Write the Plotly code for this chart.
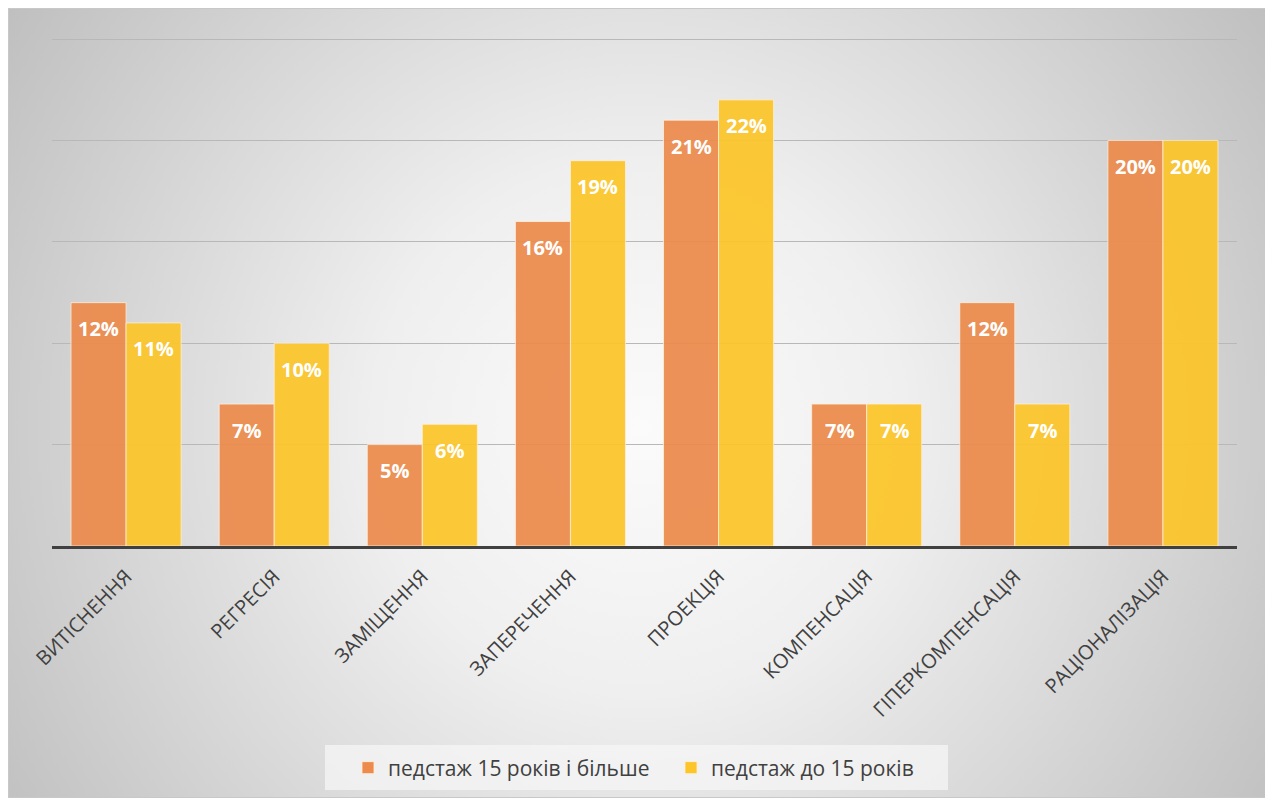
import base64
import plotly.graph_objects as go

categories = ["ВИТІСНЕННЯ", "РЕГРЕСІЯ", "ЗАМІЩЕННЯ", "ЗАПЕРЕЧЕННЯ", "ПРОЕКЦІЯ",
              "КОМПЕНСАЦІЯ", "ГІПЕРКОМПЕНСАЦІЯ", "РАЦІОНАЛІЗАЦІЯ"]
series_names = ["педстаж 15 років і більше", "педстаж до 15 років"]
senior = [12, 7, 5, 16, 21, 7, 12, 20]
junior = [11, 10, 6, 19, 22, 7, 7, 20]
colors = ["#EC8B4C", "#FCC529"]

W, H = 1262, 790
L, R, T, B = 44, 33, 30, 252
pw, ph = W - L - R, H - T - B

svg = f'''<svg xmlns="http://www.w3.org/2000/svg" width="{W}" height="{H}" viewBox="0 0 {W} {H}">
<defs><radialGradient id="g" gradientUnits="userSpaceOnUse" cx="{W/2}" cy="420" r="760">
<stop offset="0" stop-color="#fbfbfb"/><stop offset="0.35" stop-color="#efefef"/><stop offset="1" stop-color="#bfbfbf"/></radialGradient></defs>
<rect x="0.5" y="0.5" width="{W-1}" height="{H-1}" fill="url(#g)" stroke="#c8c8c8" stroke-width="1"/>
</svg>'''
src = "data:image/svg+xml;base64," + base64.b64encode(svg.encode()).decode()


def px(x):
    return (x - L) / pw


def py(y):
    return (H - B - y) / ph


fig = go.Figure()
for name, vals, col in zip(series_names, [senior, junior], colors):
    fig.add_trace(go.Bar(
        x=categories, y=vals, name=name,
        marker=dict(color=col, opacity=0.93, line=dict(color="rgba(255,240,220,0.8)", width=1)),
        hoverinfo="x+y",
    ))

annotations = []
for vals, sh in [(senior, -27.5), (junior, 27.5)]:
    for c, v in zip(categories, vals):
        annotations.append(dict(
            x=c, y=v, xref="x", yref="y", text=f"{v}%", showarrow=False,
            xshift=sh, yshift=-26, yanchor="middle",
            font=dict(family="Open Sans", size=20, color="white", weight="bold"),
        ))

fig.update_layout(
    width=W, height=H,
    margin=dict(l=L, r=R, t=T, b=B),
    paper_bgcolor="white", plot_bgcolor="rgba(0,0,0,0)",
    barmode="group", bargap=0.257, bargroupgap=0,
    font=dict(family="Open Sans", color="#404040"),
    images=[dict(source=src, xref="paper", yref="paper",
                 x=px(0), y=py(0), sizex=W / pw, sizey=H / ph,
                 xanchor="left", yanchor="top", sizing="stretch", layer="below")],
    shapes=[dict(type="rect", xref="paper", yref="paper",
                 x0=px(317), x1=px(940), y0=py(737), y1=py(782),
                 fillcolor="rgba(246,246,246,0.75)", line=dict(width=0), layer="below")],
    xaxis=dict(tickangle=-45, tickfont=dict(size=20, color="#404040"),
               showline=True, linewidth=3, linecolor="#404040",
               ticks="outside", ticklen=8, tickcolor="rgba(0,0,0,0)", showgrid=False),
    yaxis=dict(range=[0, 25.05], dtick=5, showgrid=True, gridcolor="#b8b8b8", gridwidth=1,
               showticklabels=False, zeroline=False, ticks=""),
    legend=dict(orientation="h", xref="container", x=340 / W, xanchor="left",
                yref="container", y=(H - 760) / H, yanchor="middle",
                bgcolor="rgba(0,0,0,0)", font=dict(size=21, color="#404040"),
                entrywidth=278, traceorder="normal"),
    annotations=annotations,
    showlegend=True,
)

fig.write_html("out.html")
